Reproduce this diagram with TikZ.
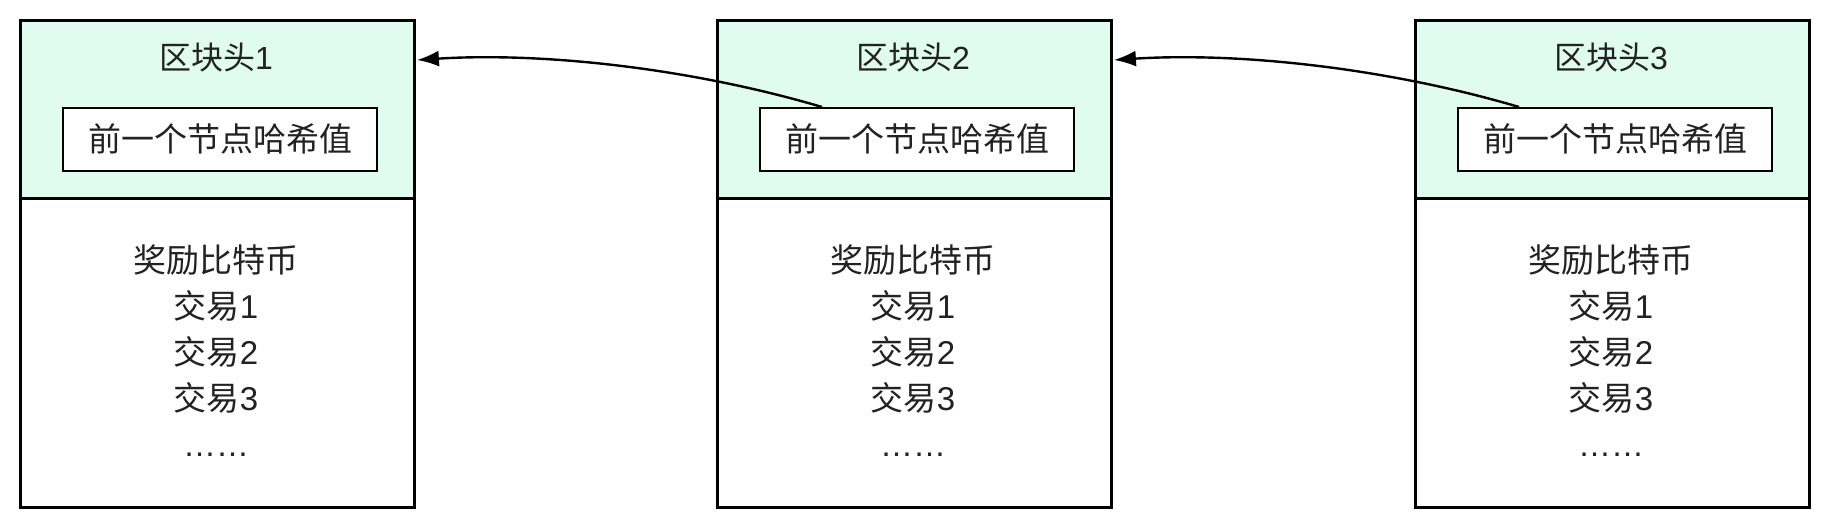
\documentclass[tikz,border=0pt]{standalone}
\usepackage{fontspec}
\setmainfont{Liberation Sans}
\newfontfamily\cjk{Noto Sans CJK SC}
\usetikzlibrary{arrows.meta,calc}
\definecolor{mint}{HTML}{E0FCEE}
\definecolor{ink}{HTML}{222222}
\tikzset{
  box/.style={draw=black, line width=2.6pt, inner sep=0pt, anchor=north west, minimum width=394pt},
  hdr/.style={box, fill=mint, minimum height=178pt},
  bdy/.style={box, fill=white, minimum height=309pt},
  prev/.style={draw=black, line width=2.4pt, fill=white, inner sep=0pt, minimum width=314pt, minimum height=63pt, anchor=north west},
  ttl/.style={text=ink, inner sep=0pt, anchor=base, font=\fontsize{32}{36}\selectfont},
  prevtxt/.style={text=ink, inner sep=0pt, anchor=base, font=\fontsize{33}{36}\selectfont\cjk},
  line/.style={text=ink, inner sep=0pt, anchor=base, font=\fontsize{33}{40}\selectfont},
  link/.style={draw=black, line width=2.4pt, -{Latex[length=22pt,width=16pt]}}
}
\begin{document}
\begin{tikzpicture}[x=1pt,y=-1pt]
\useasboundingbox (0,0) rectangle (1841,522);
\foreach \i/\x in {1/19,2/716,3/1414}{
  \node[hdr] (h\i) at (\x,19) {};
  \node[bdy] (b\i) at (\x,197) {};
  \node[prev] (p\i) at (\x+43,107) {};
  \node[prevtxt] (pt\i) at ($(p\i.north)+(0,44)$) {前一个节点哈希值};
  \node[ttl] (t\i) at (\x+197,69) {{\cjk 区块头}\i};
  \node[line] (l\i a) at (\x+197,272) {\cjk 奖励比特币};
  \node[line] (l\i b) at (\x+197,318) {{\cjk 交易}1};
  \node[line] (l\i c) at (\x+197,364) {{\cjk 交易}2};
  \node[line] (l\i d) at (\x+197,410) {{\cjk 交易}3};
  \node[line] (l\i e) at (\x+197,456) {……};
}
\coordinate (s2) at ($(p2.north west)+(63,0)$);
\coordinate (s3) at ($(p3.north west)+(62,0)$);
\coordinate (e1) at ($(h1.north east)+(1.3,41)$);
\coordinate (e2) at ($(h2.north east)+(1.3,41)$);
\draw[link] (s2) .. controls +(-132,-39) and +(125,-8) .. (e1);
\draw[link] (s3) .. controls +(-132,-39) and +(125,-8) .. (e2);
\end{tikzpicture}
\end{document}
